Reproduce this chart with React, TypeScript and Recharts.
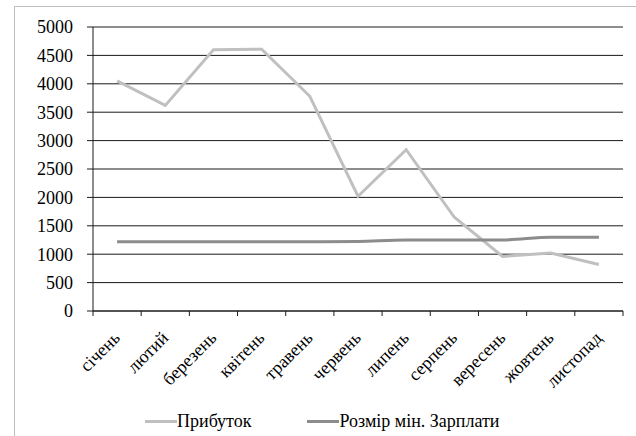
import React from 'react';
import { LineChart, Line, XAxis, YAxis, CartesianGrid } from 'recharts';

const months = ['січень', 'лютий', 'березень', 'квітень', 'травень', 'червень', 'липень', 'серпень', 'вересень', 'жовтень', 'листопад'];
const profit = [4050, 3620, 4600, 4610, 3780, 2020, 2840, 1650, 960, 1020, 820];
const minWage = [1218, 1218, 1218, 1218, 1218, 1225, 1250, 1250, 1250, 1300, 1300];
const yTicks = [0, 500, 1000, 1500, 2000, 2500, 3000, 3500, 4000, 4500, 5000];

const FONT = 'Liberation Serif, Times New Roman, serif';
const PROFIT_COLOR = '#c0c0c0';
const WAGE_COLOR = '#8c8c8c';
const AXIS_COLOR = '#1a1a1a';

const CHART_W = 636;
const MARGIN = { top: 27, right: 13, left: 0, bottom: 0 };
const Y_AXIS_W = 93;
const PLOT_W = CHART_W - MARGIN.left - MARGIN.right - Y_AXIS_W;
const STEP = PLOT_W / months.length;

const data = months.map((m, i) => ({ month: m, profit: profit[i], wage: minWage[i] }));

const MonthTick = (props: any) => {
  const { x, y, payload, index } = props;
  const ax = x + 4;
  const ay = y + 28;
  const half = STEP / 2;
  return (
    <g>
      <line x1={x - half} y1={y} x2={x - half} y2={y + 5} stroke={AXIS_COLOR} />
      {index === months.length - 1 && (
        <line x1={x + half} y1={y} x2={x + half} y2={y + 5} stroke={AXIS_COLOR} />
      )}
      <text
        x={ax}
        y={ay}
        transform={`rotate(-45, ${ax}, ${ay})`}
        textAnchor="end"
        fontFamily={FONT}
        fontSize={18}
        fill="#000"
      >
        {payload.value}
      </text>
    </g>
  );
};

const legendItems = [
  { name: 'Прибуток', color: PROFIT_COLOR },
  { name: 'Розмір мін. Зарплати', color: WAGE_COLOR },
];

export default function App() {
  return (
    <div style={{ position: 'fixed', left: 0, top: 0, width: 636, height: 436, overflow: 'hidden', background: '#fff' }}>
      <div style={{ position: 'absolute', left: 14, top: 6, width: 700, height: 500, border: '1px solid #bfbfbf' }} />
      <div style={{ position: 'absolute', left: 0, top: 0 }}>
        <LineChart width={CHART_W} height={436} data={data} margin={MARGIN}>
          <CartesianGrid horizontal vertical={false} stroke={AXIS_COLOR} />
          <YAxis
            domain={[0, 5000]}
            ticks={yTicks}
            width={Y_AXIS_W}
            tickSize={6}
            tickMargin={14}
            interval={0}
            axisLine={{ stroke: AXIS_COLOR }}
            tickLine={{ stroke: AXIS_COLOR }}
            tick={{ fontFamily: FONT, fontSize: 18, fill: '#000' }}
          />
          <XAxis
            dataKey="month"
            height={125}
            interval={0}
            padding={{ left: STEP / 2, right: STEP / 2 }}
            tickSize={0}
            tickMargin={0}
            tickLine={false}
            axisLine={{ stroke: AXIS_COLOR }}
            tick={<MonthTick />}
          />
          <Line
            type="linear"
            dataKey="profit"
            name="Прибуток"
            stroke={PROFIT_COLOR}
            strokeWidth={3}
            dot={false}
            isAnimationActive={false}
          />
          <Line
            type="monotone"
            dataKey="wage"
            name="Розмір мін. Зарплати"
            stroke={WAGE_COLOR}
            strokeWidth={3}
            dot={false}
            isAnimationActive={false}
          />
        </LineChart>
      </div>
      <div style={{ position: 'absolute', left: 145, top: 411, display: 'flex', alignItems: 'center', fontFamily: FONT, fontSize: 18, color: '#000' }}>
        {legendItems.map((it, i) => (
          <div key={it.name} style={{ display: 'flex', alignItems: 'center', marginRight: i === 0 ? 56 : 0 }}>
            <span style={{ display: 'inline-block', width: 32, height: 3, background: it.color }} />
            <span>{it.name}</span>
          </div>
        ))}
      </div>
    </div>
  );
}
